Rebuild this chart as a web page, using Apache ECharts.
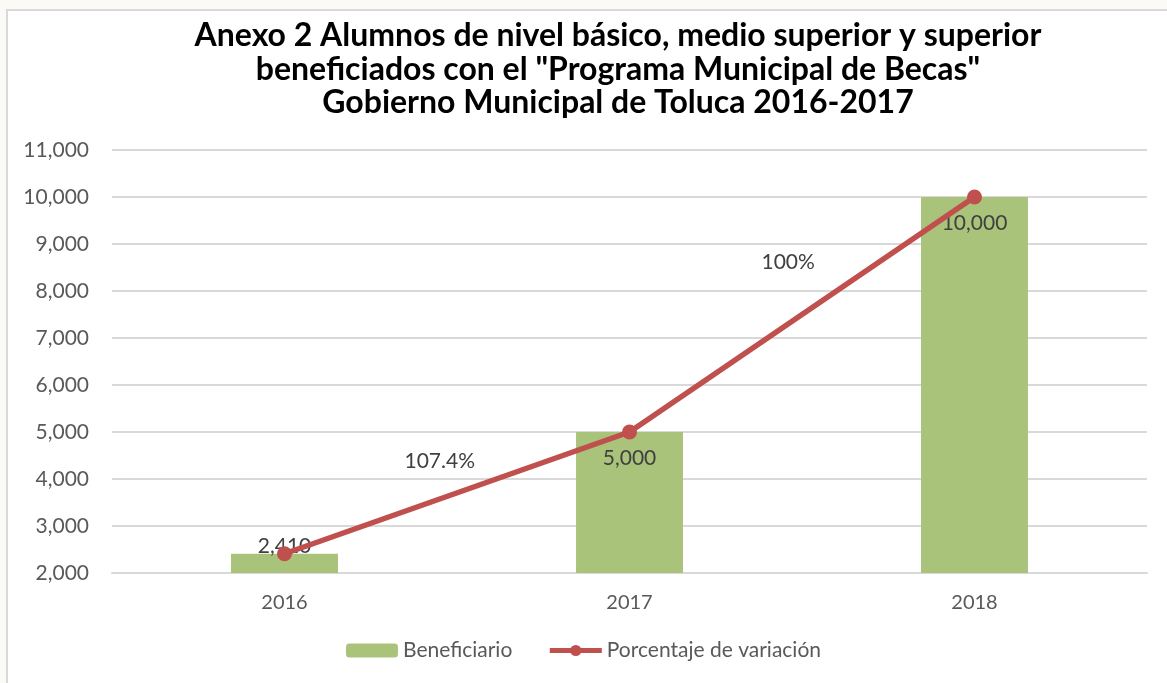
<!DOCTYPE html>
<html lang="es">
  <head>
    <meta charset="UTF-8" />
    <title>Programa Municipal de Becas</title>
    <style>
      html,
      body {
        width: 100%;
        height: 100%;
        margin: 0;
        overflow: hidden;
        background: #fcfaf6;
      }
      #frame {
        position: absolute;
        left: 6px;
        top: 9px;
        width: 1200px;
        height: 700px;
        background: #fff;
        border-left: 2px solid #d9d9d9;
        border-top: 2px solid #d9d9d9;
      }
      #main {
        position: absolute;
        left: 0;
        top: 0;
        width: 1167px;
        height: 683px;
      }
    </style>
  </head>
  <body>
    <div id="frame"></div>
    <div id="main"></div>
    <script src="https://cdn.jsdelivr.net/npm/echarts@6/dist/echarts.min.js"></script>
    <script>
      // datos
      const years = ["2016", "2017", "2018"];
      const beneficiarios = [2410, 5000, 10000];
      const variacion = [2410, 5000, 10000];
      const variacionX = [0.45, 1.46];
      const variacionY = [4380, 8620];
      const variacionTxt = ["107.4%", "100%"];

      const font = "Lato, 'Liberation Sans', sans-serif";
      const fmt = (v) => v.toLocaleString("en-US");

      const barData = beneficiarios.map((v, i) =>
        i === 0
          ? { value: v, label: { position: "top", distance: -3 } }
          : v
      );

      const option = {
        animation: false,
        textStyle: { fontFamily: font },
        title: {
          text:
            "Anexo 2 Alumnos de nivel básico, medio superior y superior\nbeneficiados con el \"Programa Municipal de Becas\"\nGobierno Municipal de Toluca 2016-2017",
          left: 613,
          top: 14,
          textAlign: "center",
          textStyle: {
            fontFamily: font,
            fontSize: 32,
            fontWeight: "bold",
            lineHeight: 33.5,
            color: "#000",
          },
        },
        legend: {
          data: [
            { name: "Beneficiario" },
            { name: "Porcentaje de variación", lineStyle: { width: 5 } },
          ],
          bottom: 17,
          left: "center",
          itemWidth: 52,
          itemHeight: 14,
          itemGap: 35,
          textStyle: { fontFamily: font, fontSize: 21, color: "#595959" },
        },
        grid: { left: 112, right: 20, top: 150, bottom: 110 },
        xAxis: [
          {
            type: "category",
            data: years,
            axisTick: { show: false },
            axisLine: { lineStyle: { color: "#d9d9d9", width: 2 } },
            axisLabel: { fontSize: 20, color: "#595959", margin: 20 },
          },
          { type: "value", min: -0.5, max: 2.5, show: false },
        ],
        yAxis: {
          type: "value",
          min: 2000,
          max: 11000,
          interval: 1000,
          axisLine: { show: false },
          axisTick: { show: false },
          axisLabel: {
            fontSize: 21,
            color: "#595959",
            margin: 23,
            formatter: fmt,
          },
          splitLine: { lineStyle: { color: "#d9d9d9", width: 2 } },
        },
        series: [
          {
            name: "Beneficiario",
            type: "bar",
            data: barData,
            barWidth: "31%",
            itemStyle: { color: "#a9c47a" },
            label: {
              show: true,
              position: "insideTop",
              distance: 16,
              fontSize: 21,
              color: "#404040",
              formatter: (p) => fmt(p.value),
            },
          },
          {
            name: "Porcentaje de variación",
            type: "line",
            data: variacion,
            symbol: "circle",
            symbolSize: 15,
            lineStyle: { color: "#c0504d", width: 5.5 },
            itemStyle: { color: "#c0504d" },
            z: 3,
          },
          {
            name: "etiquetas",
            type: "scatter",
            xAxisIndex: 1,
            data: variacionX.map((x, i) => [x, variacionY[i], variacionTxt[i]]),
            symbolSize: 0,
            itemStyle: { opacity: 1 },
            label: {
              show: true,
              position: "inside",
              fontSize: 21,
              color: "#404040",
              opacity: 1,
              formatter: (p) => p.value[2],
            },
            silent: true,
          },
        ],
      };

      const myChart = echarts.init(document.getElementById("main"));
      myChart.setOption(option);
    </script>
  </body>
</html>
